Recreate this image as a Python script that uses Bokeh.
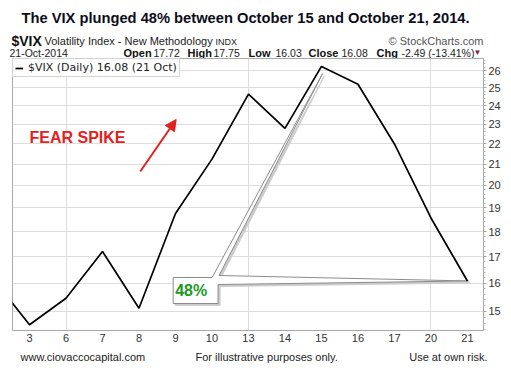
import numpy as np
from bokeh.plotting import figure
from bokeh.layouts import column, row
from bokeh.models import (Range1d, FixedTicker, Label, Arrow, NormalHead, Legend, LegendItem,
                          PrintfTickFormatter, ColumnDataSource)
from bokeh.embed import file_html
from bokeh.resources import INLINE

# ---- data ----
days = ["2", "3", "6", "7", "8", "9", "10", "13", "14", "15", "16", "17", "20", "21"]
vix = [16.16, 14.55, 15.46, 17.20, 15.11, 18.76, 21.24, 24.64, 22.79, 26.25, 25.20, 21.99, 18.57, 16.08]
y_ticks = [15, 16, 17, 18, 19, 20, 21, 22, 23, 24, 25, 26]
title_text = "The VIX plunged 48% between October 15 and October 21, 2014."

xs = list(np.arange(len(days)) - 1)  # Oct 2 sits just left of the frame
tick_pos = xs[1:]
tick_lab = {int(x): d for x, d in zip(xs[1:], days[1:])}

FONT = "Liberation Sans"
W = 511

# ---------------- header ----------------
hd = figure(width=W, height=58, output_backend="svg", toolbar_location=None,
            x_range=Range1d(0, W), y_range=Range1d(58, 0),
            x_axis_type=None, y_axis_type=None, min_border=0,
            min_border_left=0, min_border_right=0, min_border_top=0, min_border_bottom=0)
hd.outline_line_color = None
hd.grid.visible = False


def lab(fig, px, py, text, size, bold=False, color="#111111", font=FONT, align="left"):
    fig.add_layout(Label(x=px, y=py, text=text, text_font=font, text_font_size=size,
                         text_font_style="bold" if bold else "normal", text_color=color,
                         text_baseline="middle", text_align=align))


lab(hd, 21, 17, title_text, "14.7px", bold=True, color="#0d0d1a")
lab(hd, 11, 40, "$VIX", "14px", bold=True)
lab(hd, 44, 40, "Volatility Index - New Methodology", "11px", color="#222222")
lab(hd, 215, 41, "INDX", "9px", color="#222222")
lab(hd, 483, 40, "\u00a9 StockCharts.com", "11px", color="#555555", align="right")
lab(hd, 9, 52, "21-Oct-2014", "10.5px", color="#222222")
hdr = [(123, "Open", True), (153, "17.72", False), (187, "High", True), (213, "17.75", False),
       (248, "Low", True), (275, "16.03", False), (308, "Close", True), (341, "16.08", False),
       (376, "Chg", True), (401, "-2.49 (-13.41%)", False)]
for x0, t, b in hdr:
    lab(hd, x0, 52, t, "11px" if b else "10.5px", bold=b, color="#111111" if b else "#222222")
lab(hd, 473, 52, "\u25bc", "8px", color="#8b1a3a")

# ---------------- main chart ----------------
p = figure(width=W, height=288, output_backend="svg", toolbar_location=None,
           x_range=Range1d(-0.466, 12.44), y_range=Range1d(14.36, 26.73),
           y_axis_type="log", y_axis_location="right",
           min_border_left=12, min_border_top=0, min_border_bottom=16, min_border_right=28)
p.background_fill_color = "white"
p.border_fill_color = "white"
p.outline_line_color = "#a8a8a8"

xa = p.xaxis[0]
xa.ticker = FixedTicker(ticks=tick_pos)
xa.major_label_overrides = tick_lab
xa.axis_line_color = None
xa.major_tick_line_color = None
xa.major_tick_out = 0
xa.minor_tick_line_color = None
xa.major_label_text_font = FONT
xa.major_label_text_font_size = "11px"
xa.major_label_text_color = "#333333"
xa.major_label_standoff = 3

ya = p.yaxis[0]
minor = [v + k * 0.2 for v in range(14, 27) for k in range(1, 5)]
ya.ticker = FixedTicker(ticks=y_ticks, minor_ticks=minor)
ya.formatter = PrintfTickFormatter(format="%d")
ya.axis_line_color = "#a8a8a8"
ya.major_tick_line_color = "#a8a8a8"
ya.major_tick_out = 3
ya.major_tick_in = 0
ya.minor_tick_line_color = "#b8b8b8"
ya.minor_tick_out = 2
ya.minor_tick_in = 0
ya.major_label_text_font = FONT
ya.major_label_text_font_size = "11px"
ya.major_label_text_color = "#333333"
ya.major_label_standoff = 2

p.xgrid.ticker = FixedTicker(ticks=[1, 6, 11])
p.xgrid.grid_line_color = "#dddddd"
p.ygrid.ticker = FixedTicker(ticks=y_ticks)
p.ygrid.grid_line_color = "#dddddd"


def px2x(px):
    return (px - 29) / 36.58


def py2y(py):
    return 14.36 * np.exp((330 - py) / 437.8)


# callout (48%) shape, tips derived from the data
i15 = days.index("15")
i21 = days.index("21")
tip1 = (xs[i15] + 0.03, vix[i15] * 0.9836)
tip2 = (xs[i21] + 0.03, vix[i21])
cx = [px2x(173), px2x(212), tip1[0], px2x(219), tip2[0], px2x(218), px2x(218), px2x(173)]
cy = [py2y(277), py2y(277), tip1[1], py2y(275), tip2[1], py2y(284), py2y(303), py2y(303)]
dx = 2 / 36.58
fy = np.exp(-2 / 437.8)
p.patch([c + dx for c in cx], [c * fy for c in cy], fill_color="#cccccc", line_color="#cccccc",
        line_width=1)
p.patch(cx, cy, fill_color="white", line_color="#8c8c8c", line_width=1)
p.add_layout(Label(x=px2x(175), y=py2y(290), text="48%", text_font=FONT, text_font_style="bold",
                   text_font_size="16px", text_color="#1e9a1e", text_baseline="middle"))

src = ColumnDataSource(dict(x=xs, y=vix))
r = p.line("x", "y", source=src, line_color="black", line_width=1.7)

legend = Legend(items=[LegendItem(label="$VIX (Daily) 16.08 (21 Oct)", renderers=[r])],
                location="top_left", margin=0, padding=2, spacing=0,
                label_text_font="DejaVu Sans", label_text_font_size="11px",
                label_text_color="#222222", label_standoff=5,
                glyph_width=8, glyph_height=10, label_height=10,
                border_line_color="#a8a8a8", background_fill_alpha=1)
p.add_layout(legend)

p.add_layout(Label(x=px2x(29), y=py2y(137), text="FEAR SPIKE", text_font=FONT,
                   text_font_style="bold", text_font_size="16px", text_color="#e3211c",
                   text_baseline="middle"))
p.add_layout(Arrow(x_start=px2x(140), y_start=py2y(171), x_end=px2x(176), y_end=py2y(119),
                   line_color="#e3211c", line_width=2,
                   end=NormalHead(size=11, fill_color="#e3211c", line_color="#e3211c")))

# ---------------- footer ----------------
ft = figure(width=W, height=24, output_backend="svg", toolbar_location=None,
            x_range=Range1d(0, W), y_range=Range1d(370, 346),
            x_axis_type=None, y_axis_type=None, min_border=0,
            min_border_left=0, min_border_right=0, min_border_top=0, min_border_bottom=0)
ft.outline_line_color = None
ft.grid.visible = False
lab(ft, 20, 356, "www.ciovaccocapital.com", "11px", color="#222222")
lab(ft, 195, 356, "For illustrative purposes only.", "11px", color="#222222")
lab(ft, 487, 356, "Use at own risk.", "11px", color="#222222", align="right")

layout = column(row(hd), p, row(ft), spacing=0)
open("out.html", "w").write(file_html(layout, INLINE))
